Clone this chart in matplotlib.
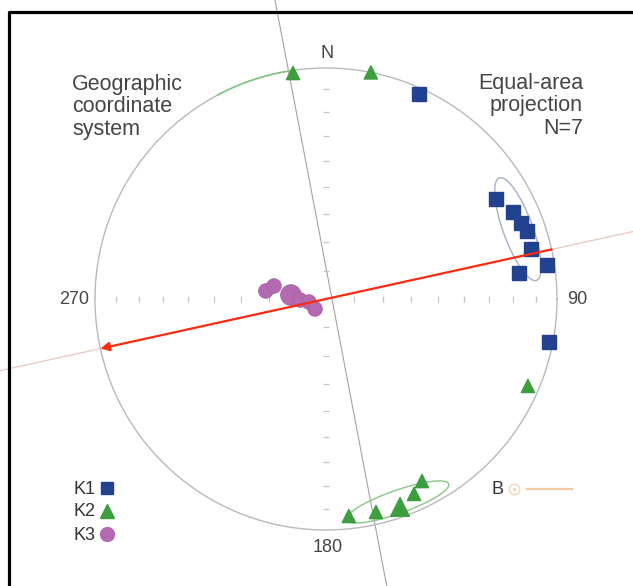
import numpy as np
import matplotlib
matplotlib.use("Agg")
import matplotlib.pyplot as plt
from matplotlib.patches import Ellipse

# ---------------- data (trend / plunge in degrees, lower hemisphere) ----------------
k1_trend  = [24.4, 59.5, 65.1, 68.7, 71.3, 76.3, 81.3, 82.3, 100.9]
k1_plunge = [2.9, 15.7, 11.7, 10.3, 9.0, 9.5, 3.6, 16.8, 1.9]

k2_trend  = [351.7, 11.2, 113.3, 174.0, 166.8, 160.4, 155.7, 152.2]
k2_plunge = [1.3, 0.0, 5.4, 6.2, 5.9, 5.0, 8.2, 11.9]
k2_count  = [1, 1, 1, 1, 1, 2, 1, 1]

k3_trend  = [277.6, 284.0, 276.5, 267.8, 260.0, 227.7]
k3_plunge = [68.6, 71.1, 77.6, 80.9, 83.9, 84.8]
k3_count  = [1, 1, 2, 1, 1, 1]

# confidence ellipses: mean trend, mean plunge, semi-axes (tangential, radial)
k1_ellipse = (70.0, 12.6, 0.236, 0.064)
k2_ellipse = (160.6, 7.6, 0.235, 0.050)
k2_arc = (332.0, 351.0)        # part of K2 ellipse wrapping onto the primitive

plane_azimuth = 349.2          # steep plane drawn as a line
pole_azimuth = 77.6            # B direction line
tick_plunges = [10, 20, 30, 40, 50, 60, 70, 80]
cardinal_labels = ["N", "90", "180", "270"]
legend_labels = ["K1", "K2", "K3"]

# ---------------- helpers ----------------
def proj(trend, plunge):
    t = np.radians(np.asarray(trend, float))
    p = np.radians(np.asarray(plunge, float))
    r = np.sqrt(2) * np.sin((np.pi / 2 - p) / 2)
    return r * np.sin(t), r * np.cos(t)

CX, CY, R = 326.0, 299.0, 231.0
def P(x, y):   # pixel position -> axes data units (layout only)
    return (x - CX) / R, (CY - y) / R

fig = plt.figure(figsize=(6.33, 5.86), dpi=100)
ax = fig.add_axes([0, 0, 1, 1])
ax.set_xlim(P(0, 0)[0], P(633, 0)[0])
ax.set_ylim(P(0, 586)[1], P(0, 0)[1])
ax.axis("off")

font = "Liberation Sans"
txtc = "#454545"

# frame (left and top only)
x0, y0 = P(9, 11.5)
x1, _ = P(633, 0)
_, yb = P(0, 586)
ax.plot([x0, x0, x1], [yb, y0, y0], color="black", lw=2.3, solid_capstyle="butt",
        clip_on=False, zorder=10)

# primitive circle
th = np.linspace(0, 2 * np.pi, 721)
ax.plot(np.cos(th), np.sin(th), color="#b9b9b9", lw=1.0, zorder=2)
a0, a1 = np.radians(k2_arc)
ta = np.linspace(a0, a1, 60)
ax.plot(np.sin(ta), np.cos(ta), color="#7cc77c", lw=1.1, zorder=2)

# straight lines through the centre
def line_through(az, length, offset=(0, 0)):
    a = np.radians(az)
    dx, dy = np.sin(a), np.cos(a)
    return ([offset[0] - length * dx, offset[0] + length * dx],
            [offset[1] - length * dy, offset[1] + length * dy])

lx, ly = line_through(pole_azimuth, 2.0)
ax.plot(lx, ly, color="#e9c7c0", lw=0.9, zorder=1)
lx, ly = line_through(plane_azimuth, 2.0, offset=P(332, 299))
ax.plot(lx, ly, color="#a2a2a2", lw=0.8, zorder=1)

# equal-area ticks on the axes
tr = np.array(tick_plunges, float)
for az, mk in [(90, "|"), (270, "|"), (0, "_"), (180, "_")]:
    tx, ty = proj(np.full_like(tr, az), tr)
    ax.plot(tx, ty, ls="none", marker=mk, ms=4, mew=0.9, color="#c4c4c4", zorder=2)

# confidence ellipses
for (t, p, a, b), col in [(k1_ellipse, "#a9afc4"), (k2_ellipse, "#86c886")]:
    ex, ey = proj(t, p)
    ang = 180.0 - t
    ax.add_patch(Ellipse((ex, ey), 2 * a, 2 * b, angle=ang, fill=False,
                         edgecolor=col, lw=1.0, zorder=3))

# red arrow along the B line
sx, sy = proj(pole_azimuth, 0)
ex_, ey_ = proj(pole_azimuth + 180, 0)
ax.annotate("", xy=(ex_, ey_), xytext=(sx, sy),
            arrowprops=dict(arrowstyle="-|>", color="#ff2a10", lw=1.6,
                            mutation_scale=13, shrinkA=0, shrinkB=0), zorder=6)

# data points
c1, c2, c3 = "#22418f", "#3d9e3d", "#b36ab0"
x, y = proj(k1_trend, k1_plunge)
ax.plot(x, y, ls="none", marker="s", ms=9.6, mfc=c1, mec=c1, zorder=5)
x, y = proj(k2_trend, k2_plunge)
ax.scatter(x, y, marker="^", s=(9.5 * np.sqrt(k2_count)) ** 2, c=c2,
           edgecolors=c2, zorder=5)
x, y = proj(k3_trend, k3_plunge)
ax.scatter(x, y, marker="o", s=(10.5 * np.sqrt(k3_count)) ** 2, c=c3,
           edgecolors="#a75ea3", linewidths=0.6, zorder=5)

# labels
fs_big = 15.5
ax.text(*P(72, 107), "Geographic\ncoordinate\nsystem", ha="left", va="center",
        fontsize=fs_big, family=font, color=txtc, linespacing=1.12)
ax.text(*P(583, 106), "Equal-area\nprojection\nN=7", ha="right", va="center",
        fontsize=fs_big, family=font, color=txtc, linespacing=1.08,
        multialignment="right")
for lab, pos in zip(cardinal_labels, [(327, 54), (577, 300), (328, 547), (74, 300)]):
    ax.text(*P(*pos), lab, ha="center", va="center", fontsize=13, family=font, color=txtc)

# legend
for lab, yy, mk, col, ms in zip(legend_labels, [489, 512, 535], ["s", "^", "o"],
                                [c1, c2, c3], [9.3, 9.5, 10]):
    ax.text(*P(96, yy), lab, ha="right", va="center", fontsize=13, family=font,
            color="#333333")
    ax.plot(*P(107, yy - 1), marker=mk, ms=ms, color=col, ls="none")

# B symbol
ax.text(*P(498, 489), "B", ha="center", va="center", fontsize=13, family=font, color="#333333")
ax.plot(*P(514, 489), marker="o", ms=7.5, mfc="white", mec="#f4d5b5", mew=1.0, ls="none")
ax.plot(*P(514, 489), marker="o", ms=1.5, color="#f4d5b5", ls="none")
bx0, by0 = P(527, 489)
bx1, _ = P(572, 489)
ax.plot([bx0, bx1], [by0, by0], color="#f2c9a0", lw=1.6)

fig.savefig("out.png", dpi=100)
